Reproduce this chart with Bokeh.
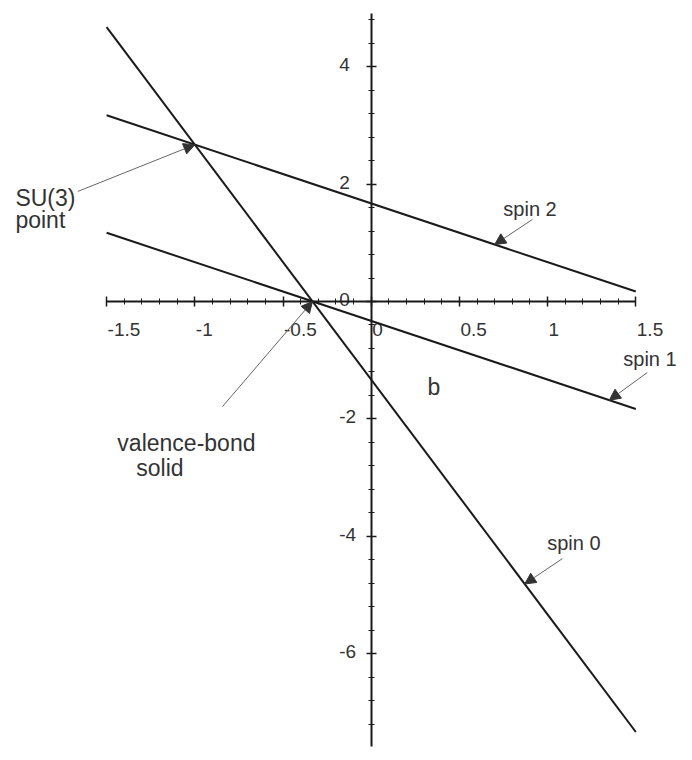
from bokeh.plotting import figure
from bokeh.models import (LinearAxis, SingleIntervalTicker, CustomJSTickFormatter,
                          Range1d, Arrow, NormalHead, Label)
from bokeh.core.properties import value
from bokeh.embed import file_html
from bokeh.resources import INLINE

# ---------------- data ----------------
b_values = [-1.5, 1.5]
spin0 = [4.67, -7.33]
spin1 = [1.17, -1.83]
spin2 = [3.17, 0.17]

x_ticks = [-1.5, -1, -0.5, 0, 0.5, 1, 1.5]
x_tick_labels = ["-1.5", "-1", "-0.5", "0", "0.5", "1", "1.5"]
y_ticks = [-6, -4, -2, 0, 2, 4]
y_tick_labels = ["-6", "-4", "-2", "0", "2", "4"]

# special points (b, E)
su3_point = (-1.0, 2.67)
vbs_point = (-0.333, 0.0)
spin2_mark = (0.70, 0.97)
spin1_mark = (1.35, -1.68)
spin0_mark = (0.87, -4.81)

# ---------------- styling / layout ----------------
FONT = "Liberation Sans"
TXT = "#333333"
LINE = "#1a1a1a"

p = figure(width=676, height=748, output_backend="svg", toolbar_location=None,
           x_axis_type=None, y_axis_type=None,
           x_range=Range1d(-2.1015, 1.7307), y_range=Range1d(-7.611, 5.125),
           min_border=0, outline_line_color=None)
p.background_fill_color = "white"
p.border_fill_color = "white"

def style_axis(ax):
    ax.axis_line_width = 2
    ax.axis_line_color = LINE
    ax.major_tick_line_color = LINE
    ax.minor_tick_line_color = LINE
    ax.major_tick_line_width = 1.5
    ax.minor_tick_line_width = 1
    ax.major_tick_in = 5
    ax.major_tick_out = 5
    ax.minor_tick_in = 3
    ax.minor_tick_out = 3
    ax.formatter = CustomJSTickFormatter(code="return ''")
    ax.major_label_standoff = 0

xaxis = LinearAxis(fixed_location=0, bounds=(-1.5, 1.5),
                   ticker=SingleIntervalTicker(interval=0.5, num_minor_ticks=5))
style_axis(xaxis)
p.add_layout(xaxis, "below")

yaxis = LinearAxis(fixed_location=0, bounds=(-7.58, 4.91),
                   ticker=SingleIntervalTicker(interval=2, num_minor_ticks=5))
style_axis(yaxis)
p.add_layout(yaxis, "left")

# tick labels (left aligned at the tick, as in the reference)
p.text(x=x_ticks, y=[0] * len(x_ticks), text=x_tick_labels,
       text_align="left", text_baseline="alphabetic", x_offset=1, y_offset=28,
       text_font=value(FONT), text_font_size="19px", text_color=TXT)
p.text(x=[0] * len(y_ticks), y=y_ticks, text=y_tick_labels,
       text_align="left", text_baseline="alphabetic", x_offset=-32, y_offset=-2,
       text_font=value(FONT), text_font_size="19px", text_color=TXT)

# energy lines
for series in (spin0, spin1, spin2):
    p.line(b_values, series, line_color=LINE, line_width=2)

# annotations: (text, x, y, size)
labels = [
    ("SU(3)", -2.017, 1.755, "23px"),
    ("point", -2.017, 1.380, "23px"),
    ("valence-bond", -1.439, -2.402, "23px"),
    ("solid", -1.332, -2.828, "23px"),
    ("spin 2", 0.749, 1.567, "20px"),
    ("spin 1", 1.429, -0.971, "20px"),
    ("spin 0", 0.998, -4.106, "20px"),
    ("b", 0.319, -1.448, "23px"),
]
for t, x, y, s in labels:
    p.add_layout(Label(x=x, y=y, text=t, text_font=FONT, text_font_size=s,
                       text_color=TXT, text_align="left",
                       text_baseline="alphabetic"))

# arrows: start positions (annotation layout) -> marked points
arrows = [
    ((-1.663, 1.874), su3_point),
    ((-0.843, -1.789), vbs_point),
    ((0.914, 1.397), spin2_mark),
    ((1.565, -1.210), spin1_mark),
    ((1.084, -4.378), spin0_mark),
]
for (xs, ys), (xe, ye) in arrows:
    p.add_layout(Arrow(end=NormalHead(size=11, fill_color="#333333",
                                      line_color="#333333", line_width=1),
                       x_start=xs, y_start=ys, x_end=xe, y_end=ye,
                       line_color="#666666", line_width=1))

open("out.html", "w").write(file_html(p, INLINE))
